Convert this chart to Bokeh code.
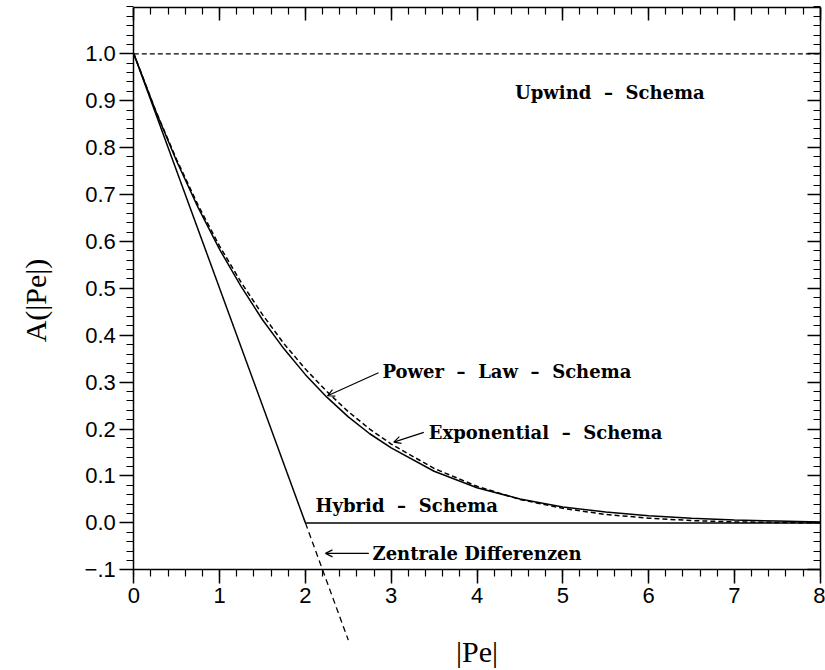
import math

from bokeh.plotting import figure
from bokeh.models import Range1d, FixedTicker, LinearAxis, Label, Arrow, OpenHead
from bokeh.embed import file_html
from bokeh.resources import INLINE

# |Pe| sample points for the two curved schemes
pe = [0.0, 0.25, 0.5, 0.75, 1.0, 1.25, 1.5, 1.75, 2.0, 2.25, 2.5, 2.75,
      3.0, 3.5, 4.0, 4.5, 5.0, 5.5, 6.0, 6.5, 7.0, 7.5, 8.0]
# solid curve (arrow "Power - Law - Schema")
a_solid = [1.0, 0.880, 0.771, 0.672, 0.583, 0.504, 0.433, 0.371, 0.316, 0.268,
           0.226, 0.190, 0.160, 0.110, 0.075, 0.051, 0.034, 0.023, 0.015,
           0.010, 0.006, 0.004, 0.002]
# dashed curve (arrow "Exponential - Schema")
a_dashed = [1.0, 0.881, 0.774, 0.677, 0.590, 0.513, 0.444, 0.382, 0.328, 0.280,
            0.237, 0.200, 0.168, 0.116, 0.078, 0.050, 0.031, 0.018, 0.010,
            0.005, 0.002, 0.001, 0.000]

# straight-line schemes
upwind_pe = [0.0, 8.0]
upwind_a = [1.0, 1.0]
central_pe = [0.0, 2.0]
central_a = [1.0, 0.0]
central_ext_pe = [2.0, 2.5]
central_ext_a = [0.0, -0.25]
hybrid_pe = [2.0, 8.0]
hybrid_a = [0.0, 0.0]

# axis ticks and labels
x_ticks = [0, 1, 2, 3, 4, 5, 6, 7, 8]
x_tick_labels = ["0", "1", "2", "3", "4", "5", "6", "7", "8"]
y_ticks = [-0.1, 0.0, 0.1, 0.2, 0.3, 0.4, 0.5, 0.6, 0.7, 0.8, 0.9, 1.0]
y_tick_labels = ["\u2212.1", "0.0", "0.1", "0.2", "0.3", "0.4", "0.5", "0.6",
                 "0.7", "0.8", "0.9", "1.0"]

x_minor = [i * 0.2 for i in range(0, 41)]
y_minor = [-0.1 + i * 0.02 for i in range(0, 61)]

# the box drawn around the graph
BOX_X = (0.0, 8.0)
BOX_Y = (-0.1, 1.098)

TICK_FONT = "Liberation Sans"
SERIF = "Liberation Serif"
NOTE_FONT = "DejaVu Serif"
DASH = "\u2002\u2009\u2013\u2009\u2002"

# the plotting area covers the whole canvas; the box, its ticks and the
# titles are placed inside it so nothing gets trimmed at the box edge
p = figure(width=825, height=670, output_backend="svg", toolbar_location=None,
           x_range=Range1d(-1.5536, 8.0617), y_range=Range1d(-0.3147, 1.1136),
           min_border_left=0, min_border_right=0, min_border_top=0,
           min_border_bottom=0)
p.grid.visible = False
p.outline_line_color = None
p.background_fill_color = "white"
p.border_fill_color = "white"


def style_axis(ax, ticks, minor, labels, show_labels, inward, bounds, where):
    ax.ticker = FixedTicker(ticks=ticks, minor_ticks=minor)
    ax.major_label_overrides = {t: l for t, l in zip(ticks, labels)}
    ax.bounds = bounds
    ax.fixed_location = where
    ax.axis_line_color = "black"
    ax.axis_line_width = 1.5
    ax.major_tick_line_color = "black"
    ax.major_tick_line_width = 1.5
    ax.minor_tick_line_color = "black"
    ax.minor_tick_line_width = 1.2
    if inward:
        ax.major_tick_in, ax.major_tick_out = 13, 0
        ax.minor_tick_in, ax.minor_tick_out = 7, 0
    else:
        ax.major_tick_in, ax.major_tick_out = 0, 14
        ax.minor_tick_in, ax.minor_tick_out = 0, 7
    if show_labels:
        ax.major_label_text_font = TICK_FONT
        ax.major_label_text_font_size = "22px"
        ax.major_label_text_color = "black"
        ax.major_label_standoff = 4
    else:
        ax.major_label_text_font_size = "0px"
        ax.major_label_standoff = 0


style_axis(p.xaxis[0], x_ticks, x_minor, x_tick_labels, True, False, BOX_X, BOX_Y[0])
style_axis(p.yaxis[0], y_ticks, y_minor, y_tick_labels, True, False, BOX_Y, BOX_X[0])

top_axis = LinearAxis()
style_axis(top_axis, x_ticks, x_minor, [""] * len(x_ticks), False, True, BOX_X, BOX_Y[1])
p.add_layout(top_axis, "above")
right_axis = LinearAxis()
style_axis(right_axis, y_ticks, y_minor, [""] * len(y_ticks), False, True, BOX_Y, BOX_X[1])
p.add_layout(right_axis, "right")

# axis titles
p.add_layout(Label(x=4.0, y=-0.2744, text="|Pe|", text_font=SERIF,
                   text_font_size="30px", text_align="center",
                   text_baseline="middle", text_color="black"))
p.add_layout(Label(x=-1.146, y=0.474, text="A(|Pe|)", text_font=SERIF,
                   text_font_size="30px", text_align="center",
                   text_baseline="middle", text_color="black",
                   angle=math.pi / 2))

# curves
p.line(upwind_pe, upwind_a, line_color="black", line_width=1.3, line_dash="5 3")
p.line(central_pe, central_a, line_color="black", line_width=1.5)
p.line(central_ext_pe, central_ext_a, line_color="black", line_width=1.3,
       line_dash="6 4")
p.line(hybrid_pe, hybrid_a, line_color="black", line_width=1.5)
p.line(pe, a_solid, line_color="black", line_width=1.5)
p.line(pe, a_dashed, line_color="black", line_width=1.5, line_dash="5 3")

# scheme annotations
notes = [
    ("Upwind" + DASH + "Schema", 4.443, 0.918),
    ("Power" + DASH + "Law" + DASH + "Schema", 2.898, 0.323),
    ("Exponential" + DASH + "Schema", 3.438, 0.193),
    ("Hybrid" + DASH + "Schema", 2.118, 0.037),
    ("Zentrale Differenzen", 2.782, -0.065),
]
for text, x, y in notes:
    p.add_layout(Label(x=x, y=y, text=text, text_font=NOTE_FONT,
                       text_font_style="bold", text_font_size="18px",
                       text_align="left", text_baseline="middle",
                       text_color="black"))

pointers = [
    (2.852, 0.320, 2.258, 0.271),
    (3.380, 0.193, 3.030, 0.172),
    (2.739, -0.065, 2.234, -0.065),
]
for xs, ys, xe, ye in pointers:
    p.add_layout(Arrow(end=OpenHead(size=7, line_width=1.2, line_color="black"),
                       x_start=xs, y_start=ys, x_end=xe, y_end=ye,
                       line_color="black", line_width=1.2))

open("out.html", "w").write(file_html(p, INLINE))
